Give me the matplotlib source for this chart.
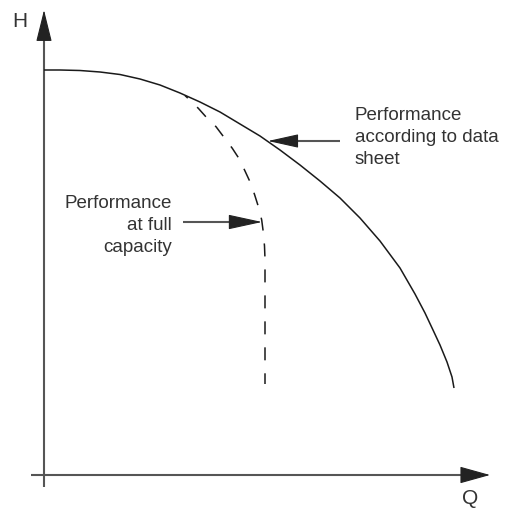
import matplotlib
matplotlib.use("Agg")
import matplotlib.pyplot as plt

plt.rcParams['font.family'] = ['Liberation Sans', 'DejaVu Sans']

# Performance according to data sheet (solid curve), Q vs H (arbitrary units)
q_sheet = [0, 16, 36, 56, 76, 96, 116, 136, 156, 176, 196, 216, 236, 256, 276,
           296, 316, 336, 356, 371, 381, 389, 396, 403, 408, 410]
h_sheet = [405, 405, 404.5, 403, 400.5, 396, 390, 382, 373, 363, 351, 339, 325,
           310, 294, 277, 257, 234, 207, 181, 162, 145, 130, 113, 98, 87]

# Performance at full capacity (dashed curve)
q_full = [141, 154.3, 162.7, 172, 180.3, 188.3, 195.3, 201, 206.7, 210.7, 214.7,
          217.7, 219.3, 220.5, 221, 221]
h_full = [379.5, 366.7, 357.3, 348.3, 337.3, 326.7, 316, 304, 291.7, 280, 267.3,
          255, 242.7, 229, 216, 91]

axis_labels = ["Q", "H"]
label_sheet = "Performance\naccording to data\nsheet"
label_full = "Performance\nat full\ncapacity"

fig = plt.figure(figsize=(5.1, 5.08), dpi=100)
ax = fig.add_axes([0, 0, 1, 1])
ax.set_xlim(-44, 466)
ax.set_ylim(-33, 475)
ax.axis('off')

axis_col = '#555555'
dark = '#222222'
txt = '#333333'

# axes lines
ax.plot([-13, 420], [0, 0], color=axis_col, lw=1.5, solid_capstyle='butt')
ax.plot([0, 0], [-12, 440], color=axis_col, lw=1.5, solid_capstyle='butt')

def head(tip, base, hl, hw):
    ax.annotate('', xy=tip, xytext=base,
                arrowprops=dict(arrowstyle=f'-|>,head_length={hl},head_width={hw}',
                                color=dark, lw=0.8, mutation_scale=1,
                                shrinkA=0, shrinkB=0))

# axis arrow heads
head((446, 0), (419, 0), 19.4, 5.4)
head((0, 465), (0, 437), 20.2, 5.0)

# curves
ax.plot(q_sheet, h_sheet, color='#1a1a1a', lw=1.1, solid_capstyle='butt')
ax.plot(q_full, h_full, color='#1a1a1a', lw=1.1,
        linestyle=(6.0, (8.5, 8.5)))

# annotation arrows
ax.plot([296, 250], [334, 334], color=axis_col, lw=1.5, solid_capstyle='butt')
head((224, 334), (251, 334), 19.4, 4.3)
ax.plot([139, 190], [253, 253], color=axis_col, lw=1.5, solid_capstyle='butt')
head((218, 253), (188, 253), 21.6, 4.7)

# texts (baseline of the last line)
ax.text(311, 311, label_sheet, fontsize=13.5, color=txt, ha='left',
        va='baseline', linespacing=1.37)
ax.text(128, 223, label_full, fontsize=13.5, color=txt, ha='right',
        va='baseline', multialignment='right', linespacing=1.37)
ax.text(426, -23.5, axis_labels[0], fontsize=15, color=txt, ha='center', va='center')
ax.text(-24, 453.5, axis_labels[1], fontsize=15, color=txt, ha='center', va='center')

fig.savefig('out.png', dpi=100)
